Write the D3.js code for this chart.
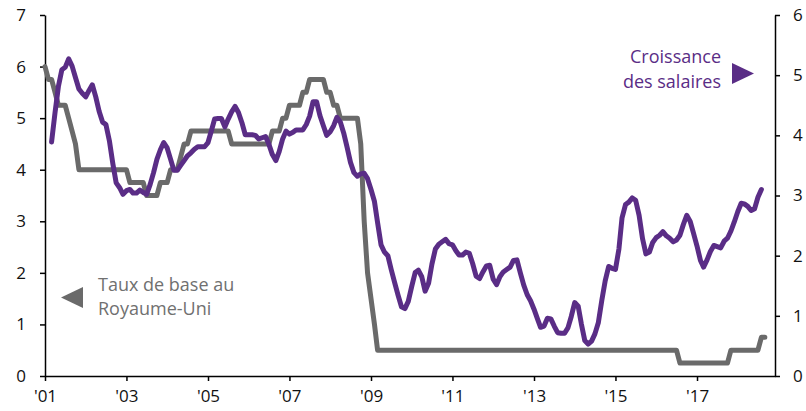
<!DOCTYPE html>
<html>
<head>
<meta charset="utf-8">
<script src="https://cdn.jsdelivr.net/npm/d3@7"></script>
<style>
  body { margin: 0; background: #fff; }
  svg { display: block; font-family: 'Open Sans', sans-serif; }
</style>
</head>
<body>
<svg id="chart"></svg>
<script>
// monthly UK bank rate, Jan 2001 .. Aug 2018 (left axis)
var baseRate = [
  6, 5.75, 5.75, 5.5, 5.25, 5.25, 5.25, 5, 4.75, 4.5, 4, 4,
  4, 4, 4, 4, 4, 4, 4, 4, 4, 4, 4, 4,
  4, 3.75, 3.75, 3.75, 3.75, 3.75, 3.5, 3.5, 3.5, 3.5, 3.75, 3.75,
  3.75, 4, 4, 4, 4.25, 4.5, 4.5, 4.75, 4.75, 4.75, 4.75, 4.75,
  4.75, 4.75, 4.75, 4.75, 4.75, 4.75, 4.75, 4.5, 4.5, 4.5, 4.5, 4.5,
  4.5, 4.5, 4.5, 4.5, 4.5, 4.5, 4.5, 4.75, 4.75, 4.75, 5, 5,
  5.25, 5.25, 5.25, 5.25, 5.5, 5.5, 5.75, 5.75, 5.75, 5.75, 5.75, 5.5,
  5.5, 5.25, 5.25, 5, 5, 5, 5, 5, 5, 4.5, 3, 2,
  1.5, 1, 0.5, 0.5, 0.5, 0.5, 0.5, 0.5, 0.5, 0.5, 0.5, 0.5,
  0.5, 0.5, 0.5, 0.5, 0.5, 0.5, 0.5, 0.5, 0.5, 0.5, 0.5, 0.5,
  0.5, 0.5, 0.5, 0.5, 0.5, 0.5, 0.5, 0.5, 0.5, 0.5, 0.5, 0.5,
  0.5, 0.5, 0.5, 0.5, 0.5, 0.5, 0.5, 0.5, 0.5, 0.5, 0.5, 0.5,
  0.5, 0.5, 0.5, 0.5, 0.5, 0.5, 0.5, 0.5, 0.5, 0.5, 0.5, 0.5,
  0.5, 0.5, 0.5, 0.5, 0.5, 0.5, 0.5, 0.5, 0.5, 0.5, 0.5, 0.5,
  0.5, 0.5, 0.5, 0.5, 0.5, 0.5, 0.5, 0.5, 0.5, 0.5, 0.5, 0.5,
  0.5, 0.5, 0.5, 0.5, 0.5, 0.5, 0.5, 0.25, 0.25, 0.25, 0.25, 0.25,
  0.25, 0.25, 0.25, 0.25, 0.25, 0.25, 0.25, 0.25, 0.25, 0.25, 0.5, 0.5,
  0.5, 0.5, 0.5, 0.5, 0.5, 0.5, 0.5, 0.75, 0.75
]

// monthly wage growth, Mar 2001 .. Aug 2018 (right axis)
var wageGrowth = [
  3.89, 4.38, 4.81, 5.09, 5.13, 5.27, 5.15, 4.96, 4.77, 4.70,
  4.64, 4.75, 4.84, 4.64, 4.40, 4.22, 4.18, 3.91, 3.53, 3.21, 3.13, 3.02,
  3.08, 3.10, 3.04, 3.04, 3.09, 3.05, 3.02, 3.18, 3.38, 3.60, 3.76, 3.88,
  3.79, 3.60, 3.42, 3.42, 3.50, 3.58, 3.66, 3.71, 3.77, 3.81, 3.81, 3.81,
  3.88, 4.08, 4.27, 4.28, 4.28, 4.14, 4.27, 4.39, 4.48, 4.38, 4.21, 4.01,
  4.01, 4.01, 4.00, 3.94, 3.96, 3.98, 3.85, 3.68, 3.58, 3.73, 3.94, 4.07,
  4.02, 4.05, 4.09, 4.09, 4.09, 4.18, 4.32, 4.56, 4.56, 4.33, 4.16, 4.00,
  4.06, 4.16, 4.30, 4.22, 4.04, 3.80, 3.55, 3.38, 3.32, 3.36, 3.37, 3.28,
  3.10, 2.90, 2.55, 2.18, 2.06, 2.00, 1.77, 1.55, 1.34, 1.15, 1.12, 1.24,
  1.49, 1.72, 1.76, 1.65, 1.41, 1.54, 1.86, 2.11, 2.19, 2.23, 2.27, 2.20,
  2.18, 2.08, 2.01, 2.01, 2.06, 2.04, 1.87, 1.66, 1.62, 1.73, 1.83, 1.84,
  1.61, 1.52, 1.65, 1.73, 1.77, 1.81, 1.92, 1.93, 1.71, 1.51, 1.35, 1.25,
  1.11, 0.95, 0.81, 0.83, 0.96, 0.95, 0.83, 0.72, 0.71, 0.71, 0.80, 0.99,
  1.22, 1.16, 0.87, 0.59, 0.53, 0.58, 0.70, 0.89, 1.26, 1.58, 1.82, 1.79,
  1.77, 2.11, 2.63, 2.85, 2.89, 2.96, 2.92, 2.67, 2.28, 2.03, 2.06, 2.22,
  2.30, 2.34, 2.40, 2.33, 2.29, 2.23, 2.26, 2.34, 2.52, 2.67, 2.57, 2.37,
  2.16, 1.92, 1.81, 1.93, 2.07, 2.17, 2.15, 2.13, 2.24, 2.29, 2.41, 2.56,
  2.73, 2.87, 2.86, 2.82, 2.75, 2.78, 2.97, 3.10
]

var baseStart = new Date(2001, 0, 1)
var wageStart = new Date(2001, 2, 1)
var yearTicks = [2001, 2003, 2005, 2007, 2009, 2011, 2013, 2015, 2017]
var leftTicks = [0, 1, 2, 3, 4, 5, 6, 7]
var rightTicks = [0, 1, 2, 3, 4, 5, 6]
var rateLabel = ['Taux de base au', 'Royaume-Uni']
var wageLabel = ['Croissance', 'des salaires']
var unitLabel = '(% sur 12 mois)'

var width = 806
var height = 411
var purple = '#5a2d86'
var grey = '#6a6a6a'

var svg = d3.select('#chart')
  .attr('width', width)
  .attr('height', height)

var x = d3.scaleTime()
  .domain([new Date(2001, 0, 1), new Date(2018, 11, 1)])
  .range([45, 775])
var yLeft = d3.scaleLinear().domain([0, 7]).range([376, 15])
var yRight = d3.scaleLinear().domain([0, 6]).range([376, 15])

function monthDate (start, i) {
  return new Date(start.getFullYear(), start.getMonth() + i, 1)
}

// axes
var axisBottom = d3.axisBottom(x)
  .tickValues(yearTicks.map(function (y) { return new Date(y, 0, 1) }))
  .tickFormat(function (d) { return "'" + d3.timeFormat('%y')(d) })
  .tickSize(5)
  .tickSizeOuter(0)
  .tickPadding(9)

var axisLeft = d3.axisLeft(yLeft)
  .tickValues(leftTicks)
  .tickFormat(d3.format('d'))
  .tickSize(5)
  .tickSizeOuter(0)
  .tickPadding(14)

var axisRight = d3.axisRight(yRight)
  .tickValues(rightTicks)
  .tickFormat(d3.format('d'))
  .tickSize(5)
  .tickSizeOuter(0)
  .tickPadding(13)

svg.append('g').attr('transform', 'translate(0,376)').call(axisBottom)
svg.append('g').attr('transform', 'translate(45,0)').call(axisLeft)
svg.append('g').attr('transform', 'translate(775,0)').call(axisRight)

svg.selectAll('.domain, .tick line')
  .attr('stroke', '#000')
  .attr('stroke-width', 1.5)
svg.selectAll('.tick text')
  .attr('fill', '#111')
  .style('font-size', '17px')
  .style('font-family', "'Open Sans', sans-serif")

// lines
var rateLine = d3.line()
  .x(function (d, i) { return x(monthDate(baseStart, i)) })
  .y(function (d) { return yLeft(d) })

var wageLine = d3.line()
  .x(function (d, i) { return x(monthDate(wageStart, i)) })
  .y(function (d) { return yRight(d) })

svg.append('path')
  .datum(baseRate)
  .attr('d', rateLine)
  .attr('fill', 'none')
  .attr('stroke', grey)
  .attr('stroke-width', 5)
  .attr('stroke-linejoin', 'round')
  .attr('stroke-linecap', 'round')

svg.append('path')
  .datum(wageGrowth)
  .attr('d', wageLine)
  .attr('fill', 'none')
  .attr('stroke', purple)
  .attr('stroke-width', 5)
  .attr('stroke-linejoin', 'round')
  .attr('stroke-linecap', 'round')

// labels
svg.append('text')
  .attr('x', 4)
  .attr('y', -3)
  .attr('fill', '#111')
  .style('font-size', '18px')
  .text(unitLabel)

svg.append('g')
  .selectAll('text')
  .data(wageLabel)
  .enter()
  .append('text')
  .attr('x', 721)
  .attr('y', function (d, i) { return 63 + i * 25 })
  .attr('text-anchor', 'end')
  .attr('fill', purple)
  .style('font-size', '18px')
  .text(function (d) { return d })

svg.append('path')
  .attr('d', 'M732,63L754,73.5L732,84Z')
  .attr('fill', purple)

svg.append('g')
  .selectAll('text')
  .data(rateLabel)
  .enter()
  .append('text')
  .attr('x', 98)
  .attr('y', function (d, i) { return 291 + i * 24 })
  .attr('fill', '#707070')
  .style('font-size', '18px')
  .text(function (d) { return d })

svg.append('path')
  .attr('d', 'M83,287L61,297.5L83,308Z')
  .attr('fill', grey)
</script>
</body>
</html>
